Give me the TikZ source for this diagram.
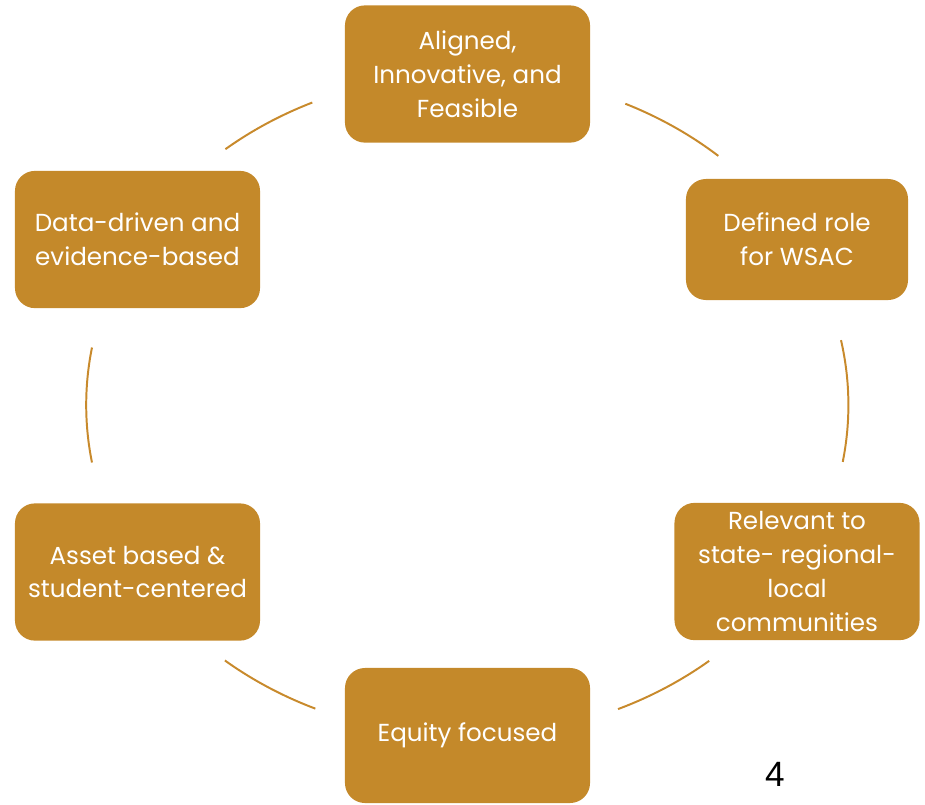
\documentclass[tikz,border=0pt]{standalone}
\usepackage{fontspec}
\setmainfont{Poppins}
\newfontfamily\numfont{Liberation Sans}
\usetikzlibrary{positioning}
\definecolor{wsacgold}{HTML}{C4892A}
\definecolor{wsacline}{HTML}{C88A2C}

\begin{document}
\begin{tikzpicture}[
   x=0.025cm, y=0.025cm,
   font=\fontsize{17.5}{24}\selectfont,
   card/.style={rectangle, rounded corners=5mm, fill=wsacgold, text=white,
                align=center, minimum width=6.125cm, minimum height=3.43cm,
                inner sep=2pt},
   ring/.style={wsacline, line width=1.4pt}]
 \useasboundingbox (0,0) rectangle (925,-804);
 \node[card] (aligned) at (467.5,-74) {Aligned,\\Innovative, and\\Feasible};
 \node[card, minimum width=5.55cm, minimum height=3.025cm] (role) at (797,-239.5) {Defined role\\for WSAC};
 \node[card] (relevant) at (797,-571.5) {Relevant to\\state- regional-\\local\\communities};
 \node[card, minimum height=3.375cm] (equity) at (467.5,-735.5) {Equity focused};
 \node[card] (asset) at (137.5,-572) {Asset based \&\\student-centered};
 \node[card] (data) at (137.5,-239.5) {Data-driven and\\evidence-based};
 % the ring between the cards
 \coordinate (hub) at (467.3,-405);
 \foreach \a/\b in {129.4/114, 65.5/48.8, 11.3/-9.9, -50.6/-66.7, 246.5/230.5, 190/170}
   \draw[ring] (hub) ++(\a:9.525cm and 8.275cm)
     arc[start angle=\a, end angle=\b, x radius=9.525cm, y radius=8.275cm];
 \node[font=\numfont\fontsize{25}{30}\selectfont] (pagenum) at (775,-774) {4};
\end{tikzpicture}
\end{document}
